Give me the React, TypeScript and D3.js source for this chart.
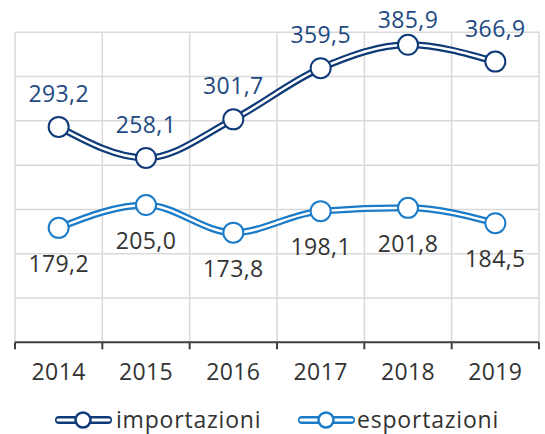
import React from "react";
import * as d3 from "d3";

const years = ["2014", "2015", "2016", "2017", "2018", "2019"];
const importazioni = [293.2, 258.1, 301.7, 359.5, 385.9, 366.9];
const esportazioni = [179.2, 205.0, 173.8, 198.1, 201.8, 184.5];
const yTicks = [50, 100, 150, 200, 250, 300, 350, 400];
const seriesNames = ["importazioni", "esportazioni"];

const W = 545;
const H = 434;
const M = { left: 15, right: 6, top: 32.3, bottom: 91.7 };

const IMP = "#0e3a78";
const IMP_TXT = "#1d4a82";
const EXP = "#1a7bc8";
const TXT = "#333333";
const FONT = "'Open Sans', sans-serif";

const fmt = (v: number) => v.toFixed(1).replace(".", ",");

export default function App() {
  const x = d3
    .scaleBand<string>()
    .domain(years)
    .range([M.left, W - M.right])
    .padding(0);
  const y = d3.scaleLinear().domain([50, 400]).range([H - M.bottom, M.top]);
  const cx = (i: number) => (x(years[i]) as number) + x.bandwidth() / 2;

  const line = d3
    .line<number>()
    .x((_, i) => cx(i))
    .y((d) => y(d))
    .curve(d3.curveMonotoneX);

  const series = [
    { name: seriesNames[0], data: importazioni, color: IMP, txt: IMP_TXT, above: true },
    { name: seriesNames[1], data: esportazioni, color: EXP, txt: TXT, above: false },
  ];

  const x0 = M.left;
  const x1 = W - M.right;
  const yBase = y(50);

  const legend = [
    { name: seriesNames[0], color: IMP, sx: 55, tx: 116 },
    { name: seriesNames[1], color: EXP, sx: 298, tx: 357 },
  ];

  return (
    <svg
      width={W}
      height={H}
      style={{ position: "absolute", left: 0, top: 0, display: "block" }}
      fontFamily={FONT}
    >
      <rect width={W} height={H} fill="#fff" />
      {/* grid */}
      {yTicks.slice(1).map((t) => (
        <line key={t} x1={x0} x2={x1} y1={y(t)} y2={y(t)} stroke="#d9d9d9" strokeWidth={1.5} />
      ))}
      {years.map((yr) => (
        <line
          key={yr}
          x1={x(yr) as number}
          x2={x(yr) as number}
          y1={M.top}
          y2={yBase}
          stroke="#d9d9d9"
          strokeWidth={1.5}
        />
      ))}
      <line x1={x1} x2={x1} y1={M.top} y2={yBase} stroke="#d9d9d9" strokeWidth={1.5} />
      {/* x axis */}
      <line x1={x0} x2={x1} y1={yBase} y2={yBase} stroke="#404040" strokeWidth={2} />
      {[...years.map((yr) => x(yr) as number), x1].map((px, i) => (
        <line key={i} x1={px} x2={px} y1={yBase} y2={yBase + 7} stroke="#404040" strokeWidth={2} />
      ))}
      {years.map((yr, i) => (
        <text key={yr} x={cx(i)} y={380} textAnchor="middle" fontSize={23} fill={TXT} letterSpacing={0.4}>
          {yr}
        </text>
      ))}
      {/* series */}
      {series.map((s) => (
        <g key={s.name}>
          <path d={line(s.data) || ""} fill="none" stroke={s.color} strokeWidth={7} />
          <path d={line(s.data) || ""} fill="none" stroke="#fff" strokeWidth={2.5} />
          {s.data.map((v, i) => (
            <circle key={i} cx={cx(i)} cy={y(v)} r={10} fill="#fff" stroke={s.color} strokeWidth={2} />
          ))}
          {s.data.map((v, i) => (
            <text
              key={"t" + i}
              x={cx(i)}
              y={s.above ? Math.max(y(v) - 25, 28) : y(v) + 44}
              textAnchor="middle"
              fontSize={23}
              fill={s.txt}
              letterSpacing={0.4}
            >
              {fmt(v)}
            </text>
          ))}
        </g>
      ))}
      {/* legend */}
      {legend.map((l) => (
        <g key={l.name}>
          <line x1={l.sx + 4} x2={l.sx + 53} y1={420} y2={420} stroke={l.color} strokeWidth={8} strokeLinecap="round" />
          <line x1={l.sx + 3} x2={l.sx + 54} y1={420} y2={420} stroke="#fff" strokeWidth={3} strokeLinecap="round" />
          <circle cx={l.sx + 28} cy={420} r={7.5} fill="#fff" stroke={l.color} strokeWidth={2.5} />
          <text x={l.tx} y={428} fontSize={23} fill={TXT} letterSpacing={0.8}>
            {l.name}
          </text>
        </g>
      ))}
    </svg>
  );
}
